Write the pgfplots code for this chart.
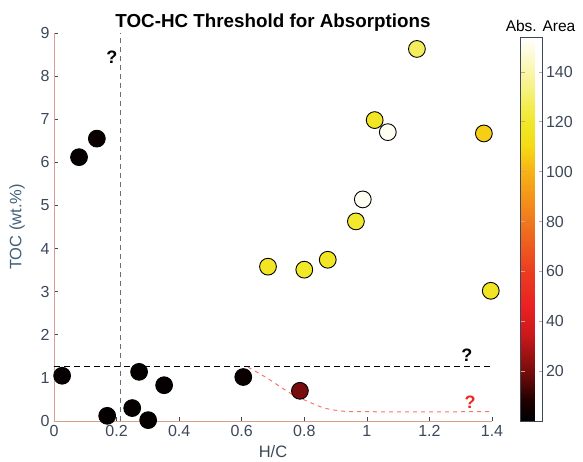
\documentclass[border=0pt]{standalone}
\usepackage{pgfplots}
\pgfplotsset{compat=1.18}
\usepackage{fontspec}
\setmainfont{Liberation Sans}

\definecolor{axisline}{RGB}{214,160,140}
\definecolor{ticktext}{RGB}{60,72,88}
\definecolor{ylabelc}{RGB}{64,96,122}
\definecolor{vline}{RGB}{100,112,124}
\definecolor{redq}{RGB}{235,40,35}
\definecolor{reddash}{RGB}{245,120,100}

% measured samples: H/C, TOC (wt.%), absorption area
\pgfplotstableread{
hc     toc   area
0.026  1.05  2
0.080  6.12  2
0.137  6.55  3
0.170  0.12  1
0.250  0.30  2
0.272  1.14  1
0.301  0.02  1
0.352  0.83  2
0.605  1.02  3
0.786  0.70  20
0.684  3.58  118
0.800  3.51  120
0.875  3.74  118
0.965  4.63  121
0.987  5.14  152
1.025  6.98  118
1.067  6.70  152
1.160  8.63  128
1.374  6.67  107
1.396  3.02  117
}\samples

\begin{document}
\begin{tikzpicture}
\begin{axis}[
  at={(0,0)}, anchor=south west,
  scale only axis, width=438pt, height=388pt,
  xmin=0, xmax=1.4, ymin=0, ymax=9,
  clip=false,
  axis x line*=bottom, axis y line*=left,
  axis line style={axisline, line width=0.8pt},
  xtick={0,0.2,0.4,0.6,0.8,1,1.2,1.4},
  ytick={0,1,...,9},
  tick align=inside, major tick length=4pt,
  tick style={ticktext, line width=0.6pt},
  ticklabel style={font=\fontsize{16}{16}\selectfont, text=ticktext},
  xticklabel style={yshift=-1pt},
  yticklabel style={xshift=-1pt},
  /pgf/number format/assume math mode=true,
  xlabel={H/C}, ylabel={TOC (wt.\%)},
  xlabel style={font=\fontsize{16.5}{16.5}\selectfont, text=ticktext, yshift=-2pt},
  ylabel style={font=\fontsize{16.5}{16.5}\selectfont, text=ylabelc, yshift=9pt},
  title={\bfseries TOC-HC Threshold for Absorptions},
  title style={font=\fontsize{18.8}{19}\selectfont, yshift=-8pt},
  colormap={absarea}{
    rgb255(0)=(0,0,0)
    rgb255(8)=(30,0,0)
    rgb255(20)=(120,12,12)
    rgb255(35)=(205,25,28)
    rgb255(45)=(232,32,34)
    rgb255(60)=(236,60,32)
    rgb255(80)=(240,120,30)
    rgb255(100)=(247,178,22)
    rgb255(110)=(245,218,20)
    rgb255(120)=(240,232,40)
    rgb255(140)=(250,246,170)
    rgb255(154)=(255,255,255)
  },
  point meta min=0, point meta max=154,
  colorbar,
  colorbar style={
    at={(parent axis.south east)}, anchor=south west, xshift=20pt,
    scale only axis, width=22pt, height=384pt,
    ytick={20,40,...,140},
    tick align=inside, major tick length=4pt,
    tick style={axisline, line width=0.6pt},
    axis line style={ticktext, line width=0.6pt},
    /pgf/number format/assume math mode=true,
    yticklabel style={font=\fontsize{16}{16}\selectfont, text=ticktext},
    title={Abs. Area},
    title style={font=\fontsize{15.5}{16}\selectfont, xshift=9pt, yshift=-4pt},
  },
]
% threshold guides
\addplot[vline, line width=0.9pt, dash pattern=on 5pt off 4pt] coordinates {(0.211,0) (0.211,9)};
\addplot[black, line width=1.6pt, dash pattern=on 6pt off 4pt] coordinates {(0,1.26) (1.393,1.26)};
\addplot[reddash, line width=1pt, dash pattern=on 4pt off 4pt, smooth] coordinates {
  (0.62,1.25) (0.68,1.00) (0.754,0.65) (0.80,0.49) (0.86,0.31) (0.92,0.23) (1.00,0.215) (1.393,0.215)};

\addplot[scatter, only marks, mark=*, mark size=8.4pt, point meta=explicit,
  scatter/use mapped color={draw=black, fill=mapped color},
  mark options={line width=0.9pt}]
  table[x=hc, y=toc, meta=area] {\samples};

\node[font=\bfseries\fontsize{18}{18}\selectfont] at (axis cs:0.185,8.44) {?};
\node[font=\bfseries\fontsize{18}{18}\selectfont] at (axis cs:1.32,1.53) {?};
\node[font=\bfseries\fontsize{18}{18}\selectfont, text=redq] at (axis cs:1.33,0.44) {?};
\end{axis}
\pgfresetboundingbox
\path (-54pt,-41pt) rectangle (529pt,421pt);
\end{tikzpicture}
\end{document}
